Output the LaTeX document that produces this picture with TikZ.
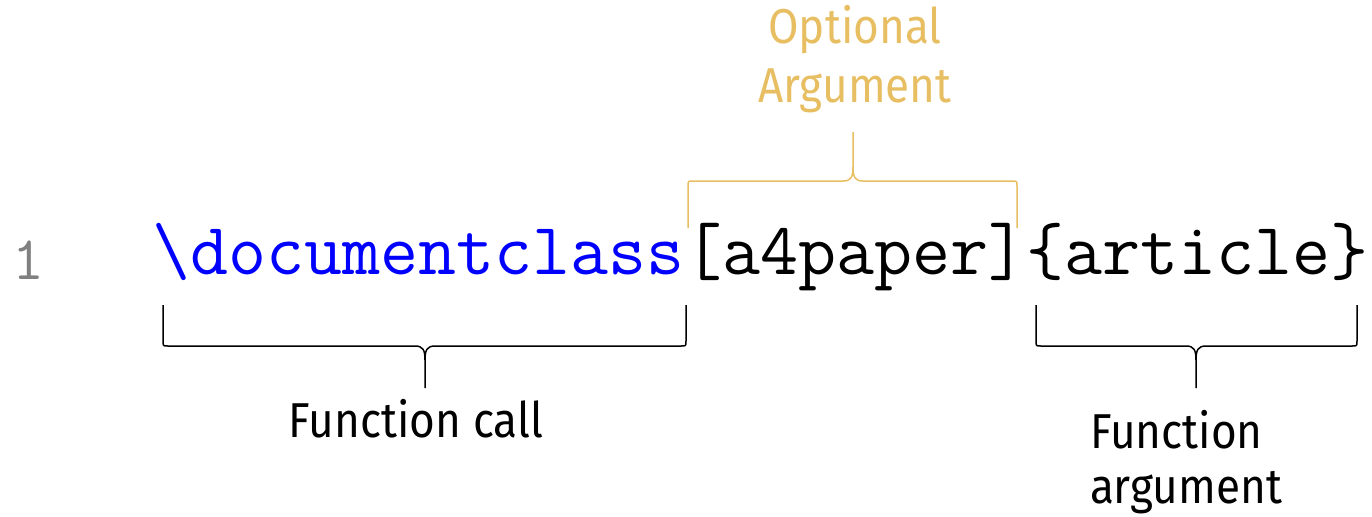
\documentclass[tikz,border=0pt]{standalone}
\usepackage{fontspec}
\newfontfamily\lblfont[FakeStretch=0.9]{Fira Sans}
\definecolor{optcol}{RGB}{232,190,98}
\definecolor{cmdblue}{RGB}{0,0,255}
\definecolor{numgray}{RGB}{128,128,128}
% curly brace: #1 left x, #2 tip x, #3 right x, #4 end y, #5 bar y, #6 tip y, #7 direction (+1 down, -1 up)
\newcommand\curlybrace[7]{%
  \draw[brace] (#1,#4) -- ({#1},{#5-5*(#7)}) .. controls (#1,#5) .. ({#1+5},#5)
    -- ({#2-10},#5) .. controls ({#2-2},#5) and (#2,{#5+4*(#7)}) .. (#2,{#5+14*(#7)}) -- (#2,#6);
  \draw[brace] (#2,{#5+14*(#7)}) .. controls (#2,{#5+4*(#7)}) and ({#2+2},#5) .. ({#2+10},#5)
    -- ({#3-5},#5) .. controls (#3,#5) .. (#3,{#5-5*(#7)}) -- (#3,#4);}
\begin{document}
\begin{tikzpicture}[x=0.5pt,y=-0.5pt,
  code/.style={inner sep=0,outer sep=0,anchor=base west,font=\fontsize{36.9}{40}\selectfont\ttfamily},
  lbl/.style={inner sep=0,outer sep=0,align=center,anchor=base,font=\lblfont\fontsize{24.5}{29.5}\selectfont},
  brace/.style={line width=0.75pt,line join=round}]
\useasboundingbox (0,0) rectangle (1372,516);

% the source line
\node[code,text=numgray,font=\fontsize{31}{34}\selectfont\ttfamily] (num) at (12,279) {1};
\node[code,text=cmdblue] (cmd) at (152,274) {\textbackslash documentclass};
\node[code] (opt) at (cmd.base east) {[a4paper]};
\node[code] (arg) at (opt.base east) {\{article\}};

% braces and their labels
\curlybrace{163}{425}{686}{305}{346}{388}{1}
\curlybrace{1036}{1196}{1357}{305}{346}{388}{1}
\begin{scope}[brace/.append style={optcol}]
\curlybrace{688}{853}{1017}{228}{181}{132}{-1}
\end{scope}

\node[lbl] (fcall) at (416,437) {Function call};
\node[lbl,align=left,anchor=base west,font=\lblfont\fontsize{24.5}{27.5}\selectfont] (farg) at (1090,503) {Function\\argument};
\node[lbl,text=optcol] (oarg) at (855,102) {Optional\\Argument};
\end{tikzpicture}
\end{document}
